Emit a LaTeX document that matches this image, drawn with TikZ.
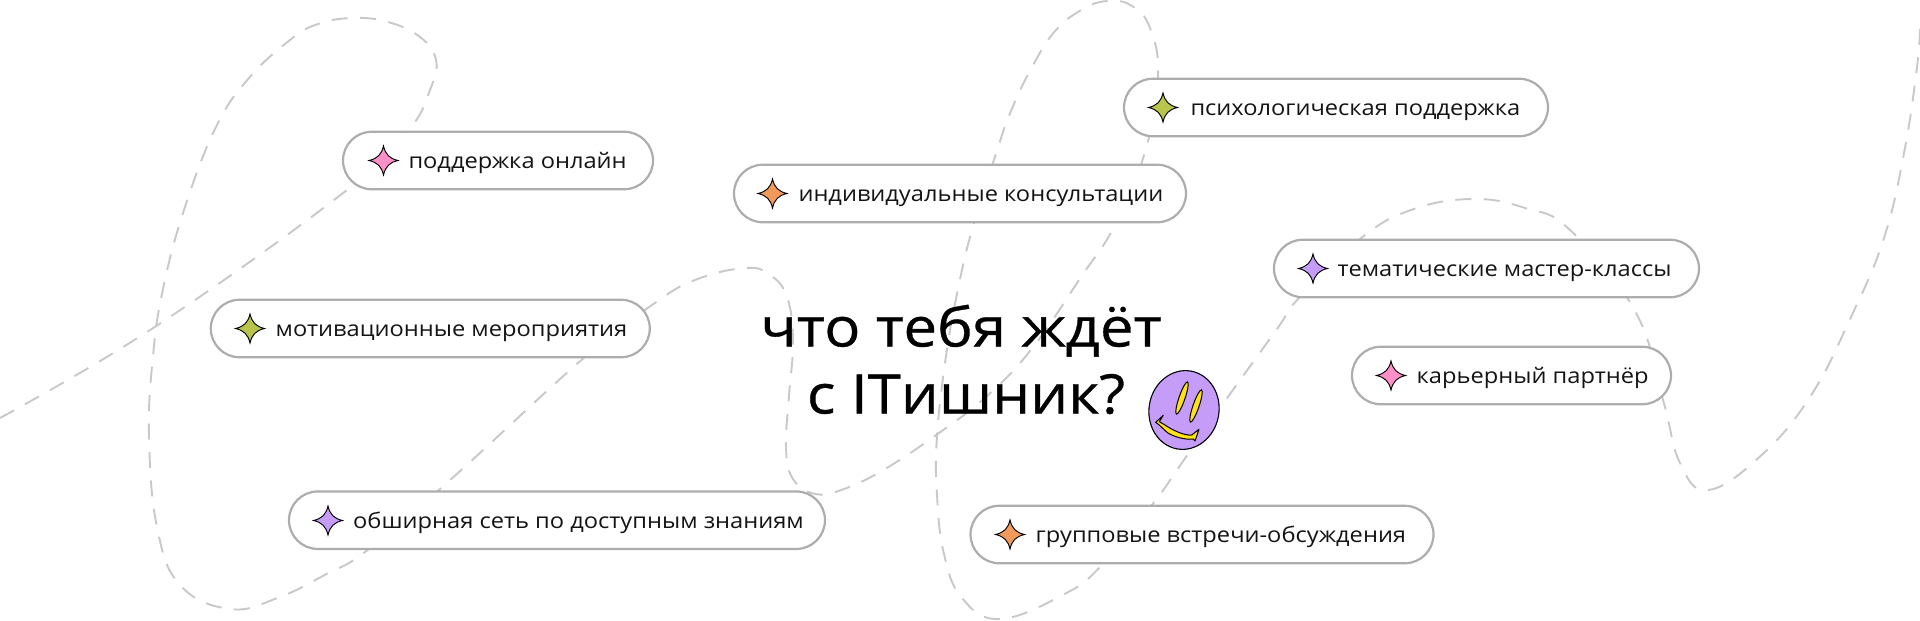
\documentclass[tikz,border=0pt]{standalone}
\usepackage{fontspec}
\setmainfont{Open Sans}[FakeStretch=1.10]
\newfontfamily\titlefont{Open Sans}[FakeStretch=1.10,FakeBold=0.6]
\usepackage{tikz}
\usetikzlibrary{shapes.misc}
\definecolor{pillgray}{HTML}{ADADAD}
\definecolor{dashgray}{HTML}{C8C8C8}
\definecolor{starpink}{HTML}{FF8FC7}
\definecolor{starolive}{HTML}{B9C44A}
\definecolor{starviolet}{HTML}{C69CF9}
\definecolor{starorange}{HTML}{F19A5B}
\definecolor{smileyellow}{HTML}{FFE11A}
\tikzset{pill/.style={draw=pillgray, line width=2.2pt, fill=white, rounded rectangle, inner sep=0, minimum height=57.5pt}}
\tikzset{pilltext/.style={anchor=base west, inner sep=0, font=\fontsize{21.5}{26}\selectfont, text=black!92}}
\tikzset{titletext/.style={anchor=base, inner sep=0, font=\titlefont\fontsize{54.5}{68}\selectfont}}
\tikzset{sparkle/.pic={
    \draw[line width=0.95pt, pic actions] (0,-14.5) .. controls (2,-6) and (6,-2) .. (14.5,0)
      .. controls (6,2) and (2,6) .. (0,14.5) .. controls (-2,6) and (-6,2) .. (-14.5,0)
      .. controls (-6,-2) and (-2,-6) .. (0,-14.5) -- cycle;
}}

\begin{document}
\begin{tikzpicture}[x=1pt, y=-1pt]
    \useasboundingbox (0,0) rectangle (1920,621);

    % the one long dashed line behind everything
    \draw[dashgray, line width=1.9pt, dash pattern=on 16pt off 12.5pt] plot[smooth, tension=0.7] coordinates {
      (0,418) (157,325.5) (347,190) (408,131) (430,90) (436,60) (420,37) (388,22) (353,18)
      (318,24) (290,40) (249,78) (216,127) (184,210) (163,289) (153,356) (149,436) (157,527)
      (180,585) (230,609) (277.5,598) (326.5,574) (367,550.5) (449,481) (583.7,358)
      (652,305) (695,280) (745,268) (770,275) (787,297) (793,340.6) (789,396)
      (786,447.5) (793,479) (815.5,494) (844,489) (885,469) (938,433.7) (987,396) (1032,348.5)
      (1081,277) (1115.5,224) (1146,148.5) (1158,75) (1150,28) (1132,6) (1109,1)
      (1085,8) (1056,30) (1032,67) (1011,111) (997,150.5) (973,226) (958,289) (946,356) (937,436)
      (937,495) (944,554) (962,598) (1000,619) (1064.5,594) (1101,566) (1152,505)
      (1179,467) (1220,408) (1277,329) (1298,299) (1360,239) (1411,210) (1472,199) (1525,208)
      (1570,230) (1635,311) (1663,400) (1680,463) (1708,490) (1761.6,455)
      (1810.6,396) (1851,317) (1884,238) (1904.5,150.5) (1917,67) (1920,28)};

    \node[pill, minimum width=310pt] (online) at (498,160.5) {};
    \pic[fill=starpink] at (383.5,160.5) {sparkle};
    \node[pilltext] (onlinetext) at (408.3,168) {поддержка онлайн};

    \node[pill, minimum width=439pt] (motiv) at (430.3,328.5) {};
    \pic[fill=starolive] at (250,328.5) {sparkle};
    \node[pilltext] (motivtext) at (275.5,336) {мотивационные мероприятия};

    \node[pill, minimum width=536pt] (network) at (557,520.2) {};
    \pic[fill=starviolet] at (328,520.5) {sparkle};
    \node[pilltext] (networktext) at (353,528) {обширная сеть по доступным знаниям};

    \node[pill, minimum width=452pt] (consult) at (960,193.5) {};
    \pic[fill=starorange] at (772.5,193.5) {sparkle};
    \node[pilltext] (consulttext) at (798.3,201) {индивидуальные консультации};

    \node[pill, minimum width=424pt] (psych) at (1336,107.5) {};
    \pic[fill=starolive] at (1163,107.5) {sparkle};
    \node[pilltext] (psychtext) at (1190.3,115) {психологическая поддержка};

    \node[pill, minimum width=425pt] (master) at (1486.5,268.5) {};
    \pic[fill=starviolet] at (1313,268.5) {sparkle};
    \node[pilltext] (mastertext) at (1337.5,276) {тематические мастер-классы};

    \node[pill, minimum width=319pt] (career) at (1511.5,375.5) {};
    \pic[fill=starpink] at (1391,375.5) {sparkle};
    \node[pilltext] (careertext) at (1416.5,383) {карьерный партнёр};

    \node[pill, minimum width=463pt] (group) at (1202,534.5) {};
    \pic[fill=starorange] at (1010,534.5) {sparkle};
    \node[pilltext] (grouptext) at (1035.5,542) {групповые встречи-обсуждения};

    \node[titletext] (titleone) at (961,346.5) {что тебя ждёт};
    \node[titletext] (titletwo) at (966,413.5) {с ITишник?};

    % smiley
    \draw[fill=starviolet, line width=1.1pt, rotate around={-10:(1184,410)}] (1184,410) ellipse (35 and 39.5);
    \draw[fill=smileyellow, line width=1pt, rotate around={-19:(1182,398)}] (1182,398) ellipse (3 and 17);
    \draw[fill=smileyellow, line width=1pt, rotate around={-19:(1196,406)}] (1196,406) ellipse (3 and 17);
    \draw[fill=smileyellow, line width=1pt, line join=round] (1163.3,415.3) -- (1155.7,422.3)
      .. controls (1160,425) and (1165,431) .. (1168.3,433.3)
      .. controls (1175,437) and (1185,440) .. (1193.3,439) -- (1195,441) -- (1199,429.3) -- (1191.7,435)
      .. controls (1185,436) and (1172,430) .. (1165,425) -- (1159.3,421.7) -- cycle;
\end{tikzpicture}
\end{document}
